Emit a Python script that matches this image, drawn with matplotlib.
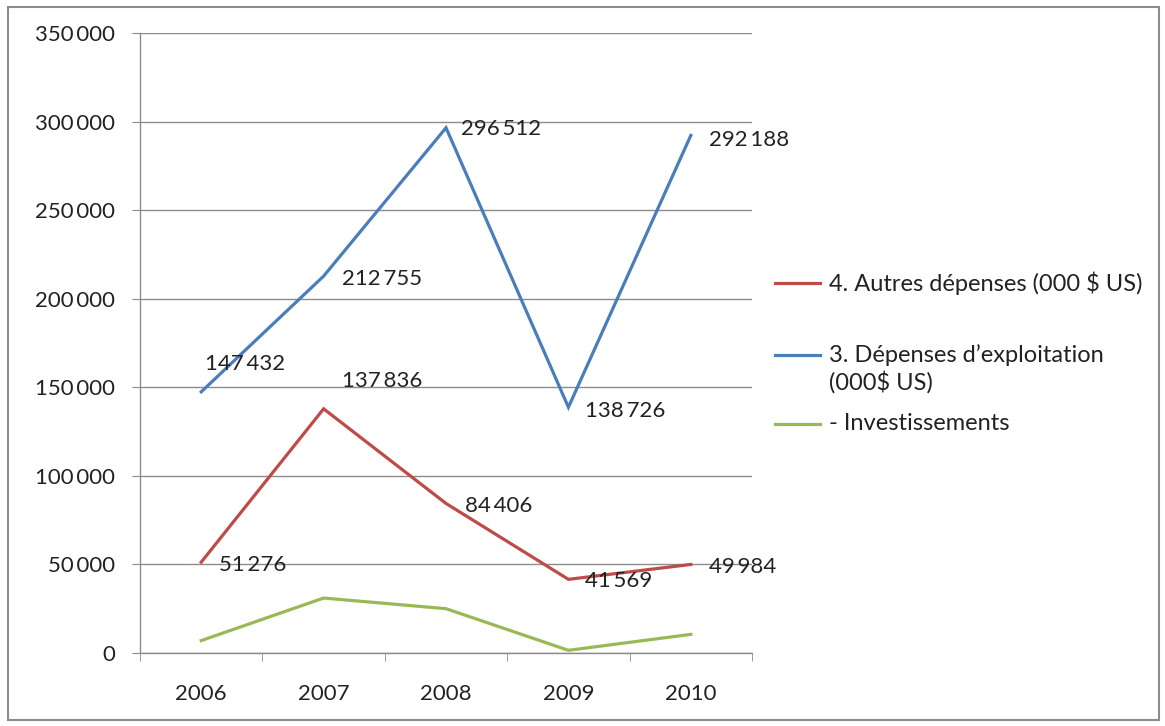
import matplotlib.pyplot as plt
from matplotlib.patches import Rectangle
from matplotlib.lines import Line2D
from matplotlib.ticker import FuncFormatter, FixedLocator

plt.rcParams['font.family'] = ['Lato', 'DejaVu Sans']

years = ['2006', '2007', '2008', '2009', '2010']
autres = [51276, 137836, 84406, 41569, 49984]
exploitation = [147432, 212755, 296512, 138726, 292188]
investissements = [7000, 31000, 25000, 1500, 10500]

lbl_autres = '4. Autres dépenses (000 $ US)'
lbl_exploit = ['3. Dépenses d’exploitation', '(000$ US)']
lbl_invest = '- Investissements'

red = '#BE4B48'
blue = '#4A7EBB'
green = '#98B954'
grid = '#8C8C8C'
txt = '#222222'


def fmt(v):
    return f'{int(v):,}'.replace(',', '\u2009')


W, H = 1165, 726
fig = plt.figure(figsize=(W / 100, H / 100), dpi=100)
fig.patches.append(Rectangle((0.007, 0.008), 0.988, 0.982, transform=fig.transFigure,
                             fill=False, edgecolor='#8C8C8C', linewidth=1.5))

ax = fig.add_axes([0.1202, 0.1006, 0.5253, 0.8539])
x = range(len(years))

ax.plot(x, autres, color=red, lw=2.3, solid_joinstyle='miter')
ax.plot(x, exploitation, color=blue, lw=2.3, solid_joinstyle='miter')
ax.plot(x, investissements, color=green, lw=2.3, solid_joinstyle='miter')

ax.set_xlim(-0.5, len(years) - 0.5)
ax.set_ylim(0, 350000)
ax.set_yticks(range(0, 350001, 50000))
ax.yaxis.set_major_formatter(FuncFormatter(lambda v, p: fmt(v)))
ax.set_xticks(list(x))
ax.set_xticklabels(years)
ax.xaxis.set_minor_locator(FixedLocator([i - 0.5 for i in range(len(years) + 1)]))

ax.grid(axis='y', color=grid, lw=1.0)
ax.set_axisbelow(True)
for side in ['top', 'right']:
    ax.spines[side].set_visible(False)
for side in ['left', 'bottom']:
    ax.spines[side].set_color(grid)
    ax.spines[side].set_linewidth(1.0)

ax.tick_params(axis='y', length=6, color=grid, labelsize=16, pad=12, labelcolor=txt)
ax.tick_params(axis='x', which='major', length=0, labelsize=16, pad=22, labelcolor=txt)
ax.tick_params(axis='x', which='minor', length=6, color=grid)

# value labels next to the red and blue points
offsets_exploit = [(3, 20), (13, -2), (11, -1), (12, -3), (13, -3)]
offsets_autres = [(13, -2), (13, 20), (14, -2), (12, -1), (13, -2)]
for i, v in enumerate(exploitation):
    ax.annotate(fmt(v), (i, v), xytext=offsets_exploit[i], textcoords='offset points',
                fontsize=16, va='center', ha='left', color=txt)
for i, v in enumerate(autres):
    ax.annotate(fmt(v), (i, v), xytext=offsets_autres[i], textcoords='offset points',
                fontsize=16, va='center', ha='left', color=txt)

# legend drawn by hand so the blue key sits on the first line of its label
def key(y_px, color, lines):
    y = 1 - y_px / H
    fig.add_artist(Line2D([775 / W, 820 / W], [y, y], color=color, lw=2.3,
                          transform=fig.transFigure))
    for k, line in enumerate(lines):
        fig.text(829 / W, 1 - (y_px + 27 * k) / H, line, fontsize=17,
                 va='center', ha='left', color=txt)


key(283, red, [lbl_autres])
key(355, blue, lbl_exploit)
key(424, green, [lbl_invest])

fig.savefig('out.png', dpi=100, facecolor='white')
